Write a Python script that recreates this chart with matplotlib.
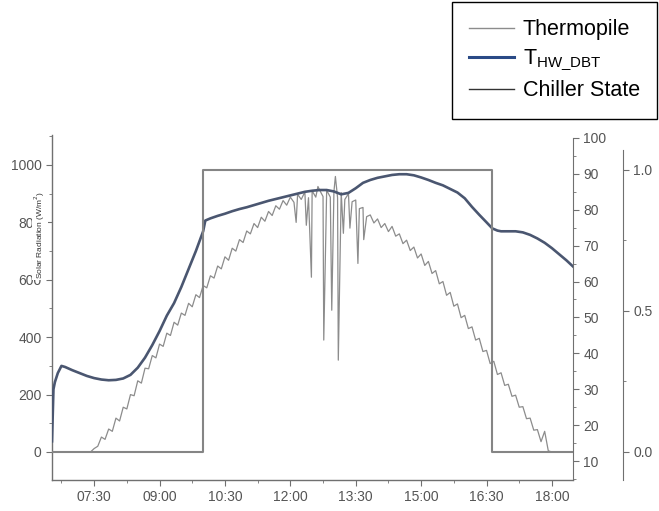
import matplotlib
matplotlib.use("Agg")
import matplotlib.pyplot as plt
import numpy as np
from matplotlib.ticker import MultipleLocator, FuncFormatter, FixedLocator
from matplotlib.lines import Line2D

plt.rcParams['font.family'] = ['Liberation Sans', 'DejaVu Sans']

# ---------------- data ----------------
# Thermopile (solar radiation, W/m2), 5-minute samples starting 07:25
thermo_start = "07:25"
thermo_step_min = 5
thermo_wm2 = [
    0, 12, 20, 52, 44, 80, 72,                                   # 07:25-07:55
    118, 108, 156, 150, 200, 196, 248, 240, 292, 290, 336, 328,  # 08:00-08:55
    376, 368, 414, 406, 452, 442, 484, 476, 518, 506, 548, 538,  # 09:00-09:55
    580, 572, 614, 606, 648, 638, 680, 668, 710, 700, 740, 730,  # 10:00-10:55
    770, 760, 796, 782, 818, 804, 838, 824, 858, 846, 876, 860,  # 11:00-11:55
    888, 870, 898, 880, 906, 886, 910, 888, 914, 890, 912, 888,  # 12:00-12:55
    908, 886, 904, 880, 900, 872, 878, 848, 852, 820, 826, 798,  # 13:00-13:55
    812, 782, 796, 768, 786, 752, 760, 726, 738, 702, 714, 676,  # 14:00-14:55
    690, 650, 664, 622, 632, 586, 594, 546, 556, 508, 516, 468,  # 15:00-15:55
    476, 430, 436, 390, 396, 350, 354, 308, 316, 270, 276, 232,  # 16:00-16:55
    236, 194, 198, 156, 158, 116, 118, 76, 78, 36, 72, 4,        # 17:00-17:55
    0,                                                           # 18:00
]
thermo_edge_times = ["06:32", "18:29"]
thermo_edge_wm2 = [0, 0]
# cloud dips / spikes around noon
dip_times = ["12:08", "12:22", "12:29", "12:38", "12:46", "12:57", "13:02",
             "13:06", "13:13", "13:22", "13:33", "13:41"]
dip_wm2 = [800, 790, 609, 925, 390, 494, 960, 320, 762, 780, 657, 740]

# Hot water temperature T_HW_DBT (deg C)
t_times = ["06:32", "06:34", "06:36", "06:40", "06:45", "06:50", "07:00", "07:10",
           "07:20", "07:30", "07:40", "07:50", "08:00", "08:10", "08:20", "08:30",
           "08:40", "08:50", "09:00", "09:10", "09:20", "09:30", "09:40", "09:50",
           "10:00", "10:03", "10:10", "10:20", "10:30", "10:40", "10:50", "11:00",
           "11:10", "11:20", "11:30", "11:40", "11:50", "12:00", "12:10", "12:20",
           "12:30", "12:40", "12:50", "13:00", "13:10", "13:20", "13:30", "13:40",
           "13:50", "14:00", "14:10", "14:20", "14:30", "14:40", "14:50", "15:00",
           "15:10", "15:20", "15:30", "15:40", "15:50", "16:00", "16:10", "16:20",
           "16:30", "16:38", "16:45", "16:50", "17:00", "17:10", "17:20", "17:30",
           "17:40", "17:50", "18:00", "18:10", "18:20", "18:29"]
t_hw_dbt = [15.5, 30.0, 32.0, 34.5, 36.5, 36.2, 35.3, 34.5,
            33.7, 33.1, 32.7, 32.5, 32.6, 33.0, 34.0, 36.0,
            38.8, 42.3, 46.2, 50.5, 54.0, 58.5, 63.5, 68.5,
            74.0, 77.0, 77.6, 78.3, 78.9, 79.6, 80.2, 80.7,
            81.3, 81.9, 82.5, 83.0, 83.5, 84.0, 84.5, 85.0,
            85.3, 85.5, 85.5, 85.1, 84.3, 84.7, 86.0, 87.5,
            88.3, 88.9, 89.3, 89.7, 89.9, 89.9, 89.6, 89.0,
            88.3, 87.5, 86.8, 85.8, 84.8, 83.2, 80.8, 78.6,
            76.5, 74.8, 74.2, 74.0, 74.0, 74.0, 73.7, 73.0,
            72.0, 70.8, 69.3, 67.6, 65.9, 64.2]

# Chiller on/off state
chiller_times = ["06:32", "10:00", "16:38", "18:29"]
chiller_state = [0, 1, 0, 0]

x_tick_labels = ["07:30", "09:00", "10:30", "12:00", "13:30", "15:00", "16:30", "18:00"]
left_ticks = [0, 200, 400, 600, 800, 1000]
temp_ticks = [10, 20, 30, 40, 50, 60, 70, 80, 90, 100]
state_ticks = [0.0, 0.5, 1.0]


def hrs(s):
    h, m = s.split(":")
    return int(h) + int(m) / 60.0


# build thermopile series
t0 = hrs(thermo_start)
th_x = [t0 + i * thermo_step_min / 60.0 for i in range(len(thermo_wm2))]
th_y = list(thermo_wm2)
th_x += [hrs(s) for s in thermo_edge_times] + [hrs(s) for s in dip_times]
th_y += list(thermo_edge_wm2) + list(dip_wm2)
order = np.argsort(th_x, kind="stable")
th_x = np.array(th_x)[order]
th_y = np.array(th_y)[order]

tx = [hrs(s) for s in t_times]
cx = [hrs(s) for s in chiller_times]

# ---------------- figure ----------------
W, H = 659, 511
fig = plt.figure(figsize=(W / 100, H / 100), dpi=100)
ax = fig.add_axes([52 / W, 31 / H, 521 / W, 345 / H])

spine_col = "#707070"
lab_col = "#555555"
tick_fs = 10

ax.plot(th_x, th_y, color="#8c8c8c", lw=0.9, zorder=2)
ax.set_xlim(hrs("06:32"), hrs("18:29"))
ax.set_ylim(-97.6, 1104.5)
ax.yaxis.set_major_locator(FixedLocator(left_ticks))
ax.yaxis.set_minor_locator(MultipleLocator(100))
ax.xaxis.set_major_locator(FixedLocator([hrs(s) for s in x_tick_labels]))
ax.xaxis.set_minor_locator(MultipleLocator(0.75))
ax.xaxis.set_major_formatter(FuncFormatter(
    lambda v, p: "%02d:%02d" % (int(v), int(round((v - int(v)) * 60)))))
for s in ["top", "right"]:
    ax.spines[s].set_visible(False)
for s in ["left", "bottom"]:
    ax.spines[s].set_color(spine_col)
    ax.spines[s].set_linewidth(1.0)
ax.tick_params(which="both", direction="out", color=spine_col, labelcolor=lab_col,
               labelsize=tick_fs)
ax.tick_params(which="major", length=4)
ax.tick_params(which="minor", length=2.5)

# temperature axis
ax2 = ax.twinx()
ax2.plot(tx, t_hw_dbt, color="#4a5670", lw=1.9, zorder=3)
ax2.set_ylim(4.71, 100.83)
ax2.yaxis.set_major_locator(FixedLocator(temp_ticks))
ax2.yaxis.set_minor_locator(MultipleLocator(5))
for s in ["top", "left", "bottom"]:
    ax2.spines[s].set_visible(False)
ax2.spines["right"].set_color(spine_col)
ax2.spines["right"].set_bounds(4.71, 100.0)
ax2.tick_params(which="both", direction="out", color=spine_col, labelcolor=lab_col,
                labelsize=tick_fs)
ax2.tick_params(which="major", length=4)
ax2.tick_params(which="minor", length=2.5)

# chiller state axis
ax3 = ax.twinx()
ax3.plot(cx, chiller_state, color="#858585", lw=1.5, drawstyle="steps-post", zorder=1)
ax3.set_ylim(-0.0993, 1.124)
ax3.spines["right"].set_position(("outward", 36))
for s in ["top", "left", "bottom"]:
    ax3.spines[s].set_visible(False)
ax3.spines["right"].set_color(spine_col)
ax3.spines["right"].set_bounds(-0.0993, 1.07)
ax3.yaxis.set_major_locator(FixedLocator(state_ticks))
ax3.yaxis.set_minor_locator(MultipleLocator(0.25))
ax3.yaxis.set_major_formatter(FuncFormatter(lambda v, p: "%.1f" % v))
ax3.tick_params(which="both", direction="out", color=spine_col, labelcolor=lab_col,
                labelsize=tick_fs)
ax3.tick_params(which="major", length=4)
ax3.tick_params(which="minor", length=2.5)

# left axis label (small, overlapping tick labels like the original)
fig.text(40 / W, 1 - 235 / H, "Solar Radiation (W/m$^2$)", rotation=90,
         ha="center", va="center", fontsize=6, color="#333333",
         bbox=dict(facecolor="white", edgecolor="none", pad=0.5))

# legend
handles = [Line2D([], [], color="#8c8c8c", lw=1.0),
           Line2D([], [], color="#2a4a86", lw=2.2),
           Line2D([], [], color="#333333", lw=1.0)]
labels = ["Thermopile", r"T$_{\mathregular{HW\_DBT}}$", "Chiller State"]
leg = fig.legend(handles, labels, loc="upper right",
                 bbox_to_anchor=(657 / W, 509 / H), frameon=True, fancybox=False,
                 edgecolor="black", framealpha=1, fontsize=15.5, handlelength=2.1,
                 labelspacing=0.35, borderpad=0.8, handletextpad=0.4,
                 borderaxespad=0)
leg.get_frame().set_linewidth(1.0)

fig.savefig("out.png", dpi=100)
